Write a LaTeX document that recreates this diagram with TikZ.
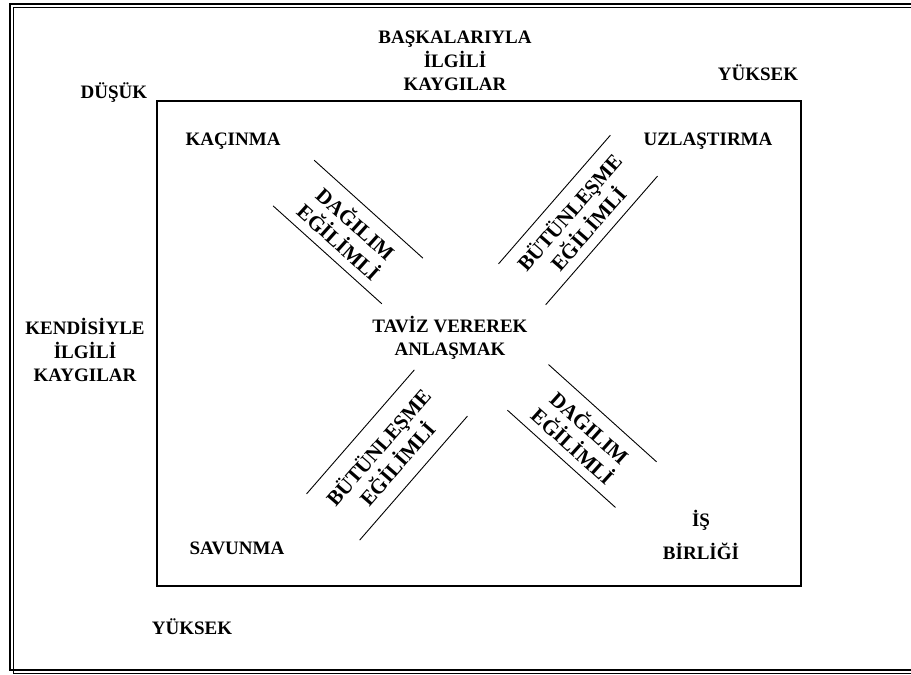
\documentclass[tikz,border=0pt]{standalone}
\usepackage{fontspec}
\setmainfont{Liberation Serif}

\begin{document}
\begin{tikzpicture}[x=1pt, y=-1pt, font=\fontsize{19}{23.5}\selectfont\bfseries,
    lbl/.style={inner sep=0pt, align=center},
    band/.style={inner sep=0pt, align=center, minimum height=#1,
                 font=\fontsize{21}{25}\selectfont\bfseries}]
  \useasboundingbox (0,0) rectangle (911,675);

  % page border, thick line with a thin one beside it
  \draw[line width=2pt] (940,4) -| (10,670) -- (940,670);
  \draw[line width=0.8pt] (940,7.5) -| (13.5,673.5) -- (940,673.5);

  % the grid of styles
  \draw[line width=2pt] (157,101) rectangle (801,586);

  % axis labels
  \node[lbl] (others) at (455,61) {BAŞKALARIYLA\\İLGİLİ\\KAYGILAR};
  \node[lbl] (self)   at (85,350) {KENDİSİYLE\\İLGİLİ\\KAYGILAR};
  \node[lbl] (low)    at (114,93)  {DÜŞÜK};
  \node[lbl] (hightop) at (758,73) {YÜKSEK};
  \node[lbl] (highbot) at (192,627) {YÜKSEK};

  % corner styles and the middle
  \node[lbl] (kac)  at (233,141) {KAÇINMA};
  \node[lbl] (uzl)  at (708,141) {UZLAŞTIRMA};
  \node[lbl] (sav)  at (237,548) {SAVUNMA};
  \node[lbl] (isb)  at (701,535) {İŞ\\[9pt]BİRLİĞİ};
  \node[lbl] (tav)  at (450,338) {TAVİZ VEREREK\\ANLAŞMAK};

  % diagonal bands
  \node[band=61pt, minimum width=146pt, rotate=-42] (dag1) at (348,232) {DAĞILIM\\EĞİLİMLİ};
  \node[band=62pt, minimum width=170pt, rotate=49]  (but1) at (578,220) {BÜTÜNLEŞME\\EĞİLİMLİ};
  \node[band=70pt, minimum width=164pt, rotate=49]  (but2) at (387,455) {BÜTÜNLEŞME\\EĞİLİMLİ};
  \node[band=61pt, minimum width=145pt, rotate=-42] (dag2) at (582,436) {DAĞILIM\\EĞİLİMLİ};
  \foreach \b in {dag1,but1,but2,dag2}
    \draw[line width=0.9pt] (\b.north west) -- (\b.north east)
                            (\b.south west) -- (\b.south east);
\end{tikzpicture}
\end{document}
